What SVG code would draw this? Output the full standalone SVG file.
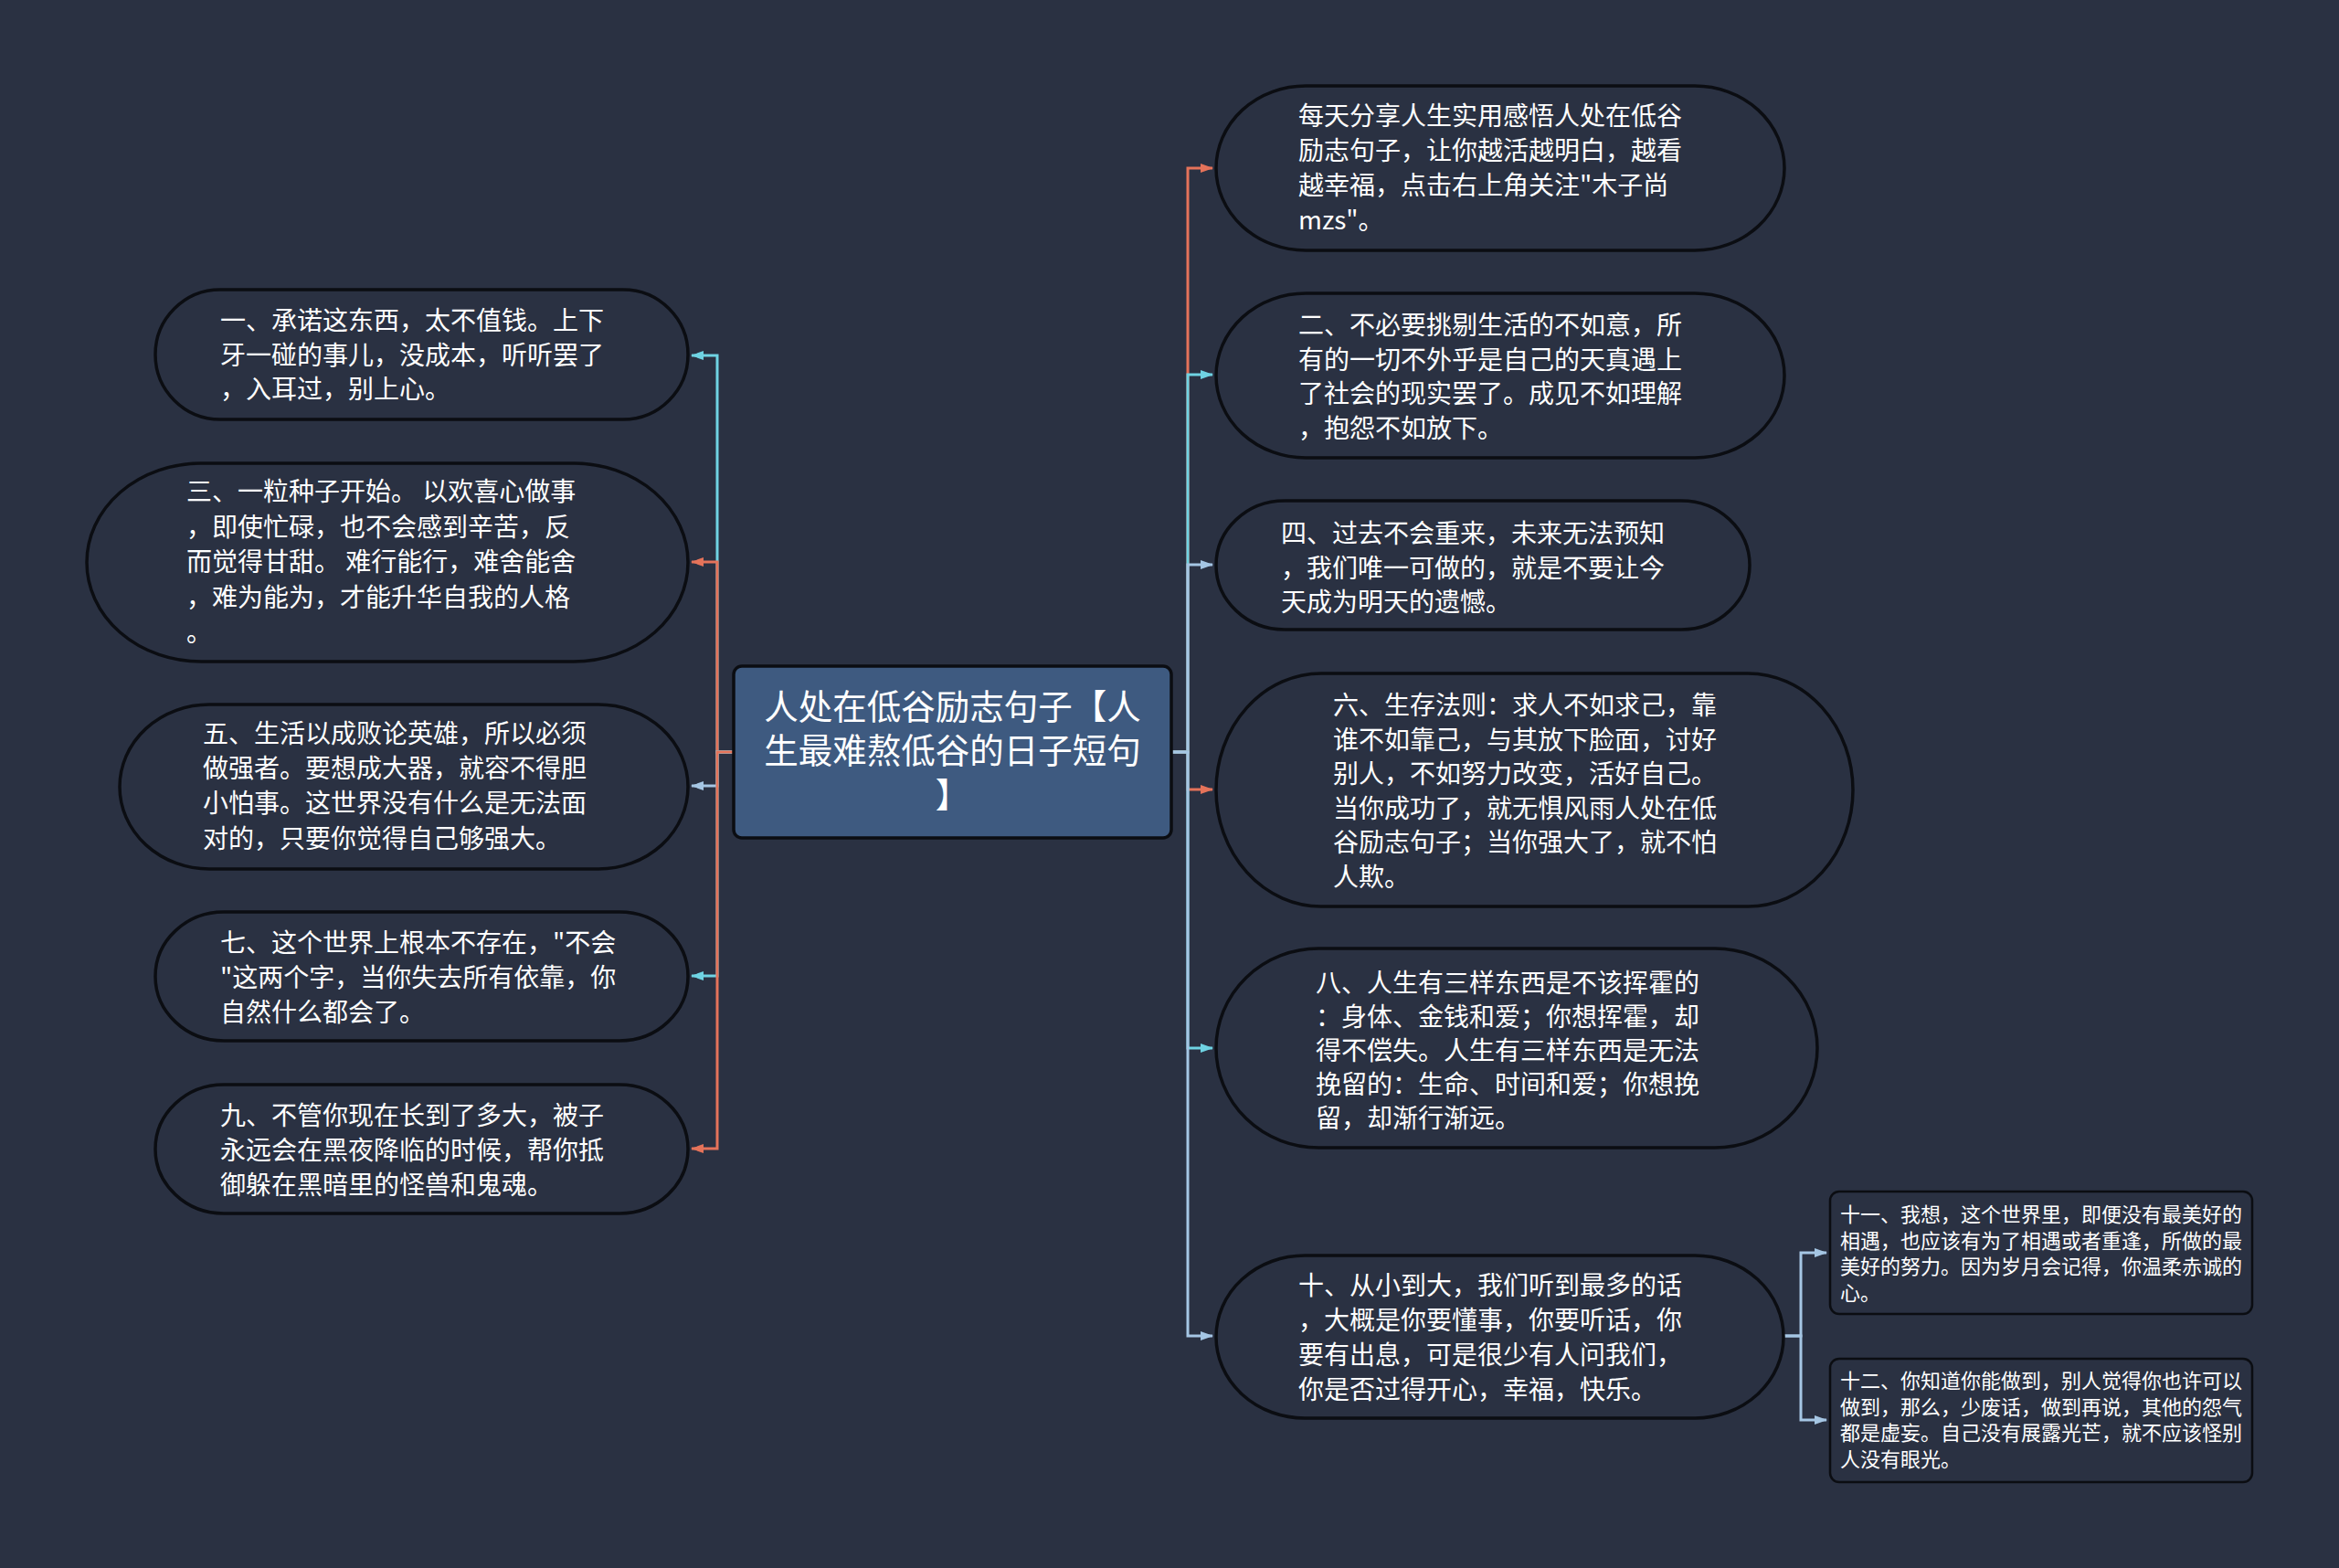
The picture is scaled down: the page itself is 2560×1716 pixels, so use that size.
<svg xmlns="http://www.w3.org/2000/svg" width="2560" height="1716" viewBox="0 0 2560 1716">
<defs>
<style>
.bg{fill:#2a3142}
.node{fill:#2a3142;stroke:#0b0d12;stroke-width:3.5}
.box{fill:#2a3142;stroke:#0b0d12;stroke-width:2.5}
.root{fill:#3e5a80;stroke:#0b0d12;stroke-width:3.5}
.t{font-family:"Noto Sans CJK SC","Noto Sans",sans-serif;font-size:28px;fill:#ffffff}
.ts{font-family:"Noto Sans CJK SC","Noto Sans",sans-serif;font-size:22px;fill:#ffffff}
.tr{font-family:"Noto Sans CJK SC","Noto Sans",sans-serif;font-size:37.5px;fill:#ffffff;text-anchor:middle}
.c{fill:none;stroke-width:3}
.red{stroke:#e5735a}
.cyan{stroke:#6fd3e3}
.lb{stroke:#a5c6e4}
</style>
<marker id="ar" markerUnits="userSpaceOnUse" markerWidth="14" markerHeight="10" refX="13" refY="5" orient="auto"><path d="M0,0 L14,5 L0,10 z" fill="#e5735a"/></marker>
<marker id="ac" markerUnits="userSpaceOnUse" markerWidth="14" markerHeight="10" refX="13" refY="5" orient="auto"><path d="M0,0 L14,5 L0,10 z" fill="#6fd3e3"/></marker>
<marker id="al" markerUnits="userSpaceOnUse" markerWidth="14" markerHeight="10" refX="13" refY="5" orient="auto"><path d="M0,0 L14,5 L0,10 z" fill="#a5c6e4"/></marker>
</defs>
<rect class="bg" x="0" y="0" width="2560" height="1716"/>

<g id="connectors">
<path class="c cyan" d="M803,823 H785 V389 H757" marker-end="url(#ac)"/>
<path class="c red" d="M803,823 H785 V615 H757" marker-end="url(#ar)"/>
<path class="c lb" d="M803,823 H785 V860 H757" marker-end="url(#al)"/>
<path class="c cyan" d="M803,823 H785 V1068 H757" marker-end="url(#ac)"/>
<path class="c red" d="M803,823 H785 V1257 H757" marker-end="url(#ar)"/>

<path class="c red" d="M1282,823 H1300 V184 H1327" marker-end="url(#ar)"/>
<path class="c cyan" d="M1282,823 H1300 V410 H1327" marker-end="url(#ac)"/>
<path class="c lb" d="M1282,823 H1300 V618 H1327" marker-end="url(#al)"/>
<path class="c red" d="M1282,823 H1300 V864 H1327" marker-end="url(#ar)"/>
<path class="c cyan" d="M1282,823 H1300 V1147 H1327" marker-end="url(#ac)"/>
<path class="c lb" d="M1282,823 H1300 V1462 H1327" marker-end="url(#al)"/>

<path class="c lb" d="M1953,1462 H1971 V1371 H1999" marker-end="url(#al)"/>
<path class="c lb" d="M1953,1462 H1971 V1554 H1999" marker-end="url(#al)"/>
</g>

<g id="root">
<rect class="root" x="803" y="729" width="479" height="188" rx="9"/>
<text class="tr" x="1042.5" y="787">人处在低谷励志句子【人</text>
<text class="tr" x="1042.5" y="835">生最难熬低谷的日子短句</text>
<text class="tr" x="1042.5" y="884">】</text>
</g>

<g id="n1">
<rect class="node" x="170" y="317" width="583" height="142" rx="71" ry="71"/>
<text class="t" x="241" y="361">一、承诺这东西，太不值钱。上下</text>
<text class="t" x="241" y="398.5">牙一碰的事儿，没成本，听听罢了</text>
<text class="t" x="241" y="436">，入耳过，别上心。</text>
</g>

<g id="n3">
<rect class="node" x="95" y="507" width="658" height="217" rx="125" ry="108.5"/>
<text class="t" x="204" y="548">三、一粒种子开始。 以欢喜心做事</text>
<text class="t" x="204" y="586.5">，即使忙碌，也不会感到辛苦，反</text>
<text class="t" x="204" y="625">而觉得甘甜。 难行能行，难舍能舍</text>
<text class="t" x="204" y="663.5">，难为能为，才能升华自我的人格</text>
<text class="t" x="204" y="702">。</text>
</g>

<g id="n5">
<rect class="node" x="131" y="771" width="622" height="180" rx="98" ry="90"/>
<text class="t" x="222" y="813">五、生活以成败论英雄，所以必须</text>
<text class="t" x="222" y="851">做强者。要想成大器，就容不得胆</text>
<text class="t" x="222" y="889">小怕事。这世界没有什么是无法面</text>
<text class="t" x="222" y="928">对的，只要你觉得自己够强大。</text>
</g>

<g id="n7">
<rect class="node" x="170" y="998" width="583" height="141" rx="75" ry="70.5"/>
<text class="t" x="241" y="1042">七、这个世界上根本不存在，"不会</text>
<text class="t" x="241" y="1080">"这两个字，当你失去所有依靠，你</text>
<text class="t" x="241" y="1118">自然什么都会了。</text>
</g>

<g id="n9">
<rect class="node" x="170" y="1187" width="583" height="141" rx="75" ry="70.5"/>
<text class="t" x="241" y="1231">九、不管你现在长到了多大，被子</text>
<text class="t" x="241" y="1269">永远会在黑夜降临的时候，帮你抵</text>
<text class="t" x="241" y="1307">御躲在黑暗里的怪兽和鬼魂。</text>
</g>

<g id="r1">
<rect class="node" x="1331" y="94" width="622" height="180" rx="98" ry="90"/>
<text class="t" x="1421" y="137">每天分享人生实用感悟人处在低谷</text>
<text class="t" x="1421" y="175">励志句子，让你越活越明白，越看</text>
<text class="t" x="1421" y="213">越幸福，点击右上角关注"木子尚</text>
<text class="t" x="1421" y="251">mzs"。</text>
</g>

<g id="r2">
<rect class="node" x="1331" y="321" width="622" height="180" rx="98" ry="90"/>
<text class="t" x="1421" y="366">二、不必要挑剔生活的不如意，所</text>
<text class="t" x="1421" y="404">有的一切不外乎是自己的天真遇上</text>
<text class="t" x="1421" y="441">了社会的现实罢了。成见不如理解</text>
<text class="t" x="1421" y="479">，抱怨不如放下。</text>
</g>

<g id="r4">
<rect class="node" x="1331" y="548" width="584" height="141" rx="75" ry="70.5"/>
<text class="t" x="1402" y="594">四、过去不会重来，未来无法预知</text>
<text class="t" x="1402" y="632">，我们唯一可做的，就是不要让今</text>
<text class="t" x="1402" y="669">天成为明天的遗憾。</text>
</g>

<g id="r6">
<rect class="node" x="1331" y="737" width="697" height="255" rx="115" ry="127.5"/>
<text class="t" x="1459" y="782">六、生存法则：求人不如求己，靠</text>
<text class="t" x="1459" y="819.5">谁不如靠己，与其放下脸面，讨好</text>
<text class="t" x="1459" y="857">别人，不如努力改变，活好自己。</text>
<text class="t" x="1459" y="894.5">当你成功了，就无惧风雨人处在低</text>
<text class="t" x="1459" y="932">谷励志句子；当你强大了，就不怕</text>
<text class="t" x="1459" y="969.5">人欺。</text>
</g>

<g id="r8">
<rect class="node" x="1331" y="1038" width="658" height="218" rx="112" ry="109"/>
<text class="t" x="1440" y="1086">八、人生有三样东西是不该挥霍的</text>
<text class="t" x="1440" y="1123">：身体、金钱和爱；你想挥霍，却</text>
<text class="t" x="1440" y="1160">得不偿失。人生有三样东西是无法</text>
<text class="t" x="1440" y="1197">挽留的：生命、时间和爱；你想挽</text>
<text class="t" x="1440" y="1234">留，却渐行渐远。</text>
</g>

<g id="r10">
<rect class="node" x="1331" y="1374" width="621" height="178" rx="97" ry="89"/>
<text class="t" x="1421" y="1417">十、从小到大，我们听到最多的话</text>
<text class="t" x="1421" y="1455">，大概是你要懂事，你要听话，你</text>
<text class="t" x="1421" y="1493">要有出息，可是很少有人问我们，</text>
<text class="t" x="1421" y="1531">你是否过得开心，幸福，快乐。</text>
</g>

<g id="r11">
<rect class="box" x="2003" y="1304" width="462" height="134" rx="10"/>
<text class="ts" x="2014" y="1337">十一、我想，这个世界里，即便没有最美好的</text>
<text class="ts" x="2014" y="1365.5">相遇，也应该有为了相遇或者重逢，所做的最</text>
<text class="ts" x="2014" y="1394">美好的努力。因为岁月会记得，你温柔赤诚的</text>
<text class="ts" x="2014" y="1422.5">心。</text>
</g>

<g id="r12">
<rect class="box" x="2003" y="1487" width="462" height="135" rx="10"/>
<text class="ts" x="2014" y="1519">十二、你知道你能做到，别人觉得你也许可以</text>
<text class="ts" x="2014" y="1547.5">做到，那么，少废话，做到再说，其他的怨气</text>
<text class="ts" x="2014" y="1576">都是虚妄。自己没有展露光芒，就不应该怪别</text>
<text class="ts" x="2014" y="1604.5">人没有眼光。</text>
</g>
</svg>
